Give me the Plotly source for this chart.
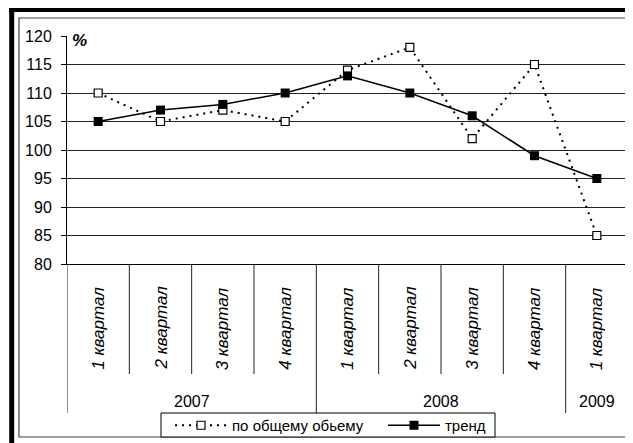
import plotly.graph_objects as go

# ---- data ----
years = ["2007", "2007", "2007", "2007", "2008", "2008", "2008", "2008", "2009"]
quarters = ["1 квартал", "2 квартал", "3 квартал", "4 квартал",
            "1 квартал", "2 квартал", "3 квартал", "4 квартал", "1 квартал"]
total_volume = [110, 105, 107, 105, 114, 118, 102, 115, 85]
trend = [105, 107, 108, 110, 113, 110, 106, 99, 95]
series_names = ["по общему обьему", "тренд"]
y_ticks = [80, 85, 90, 95, 100, 105, 110, 115, 120]

# ---- layout geometry (window pixels; page body has an 8px margin) ----
OFF = 8
W, H = 633 - OFF, 443 - OFF
PX0, PX1 = 67, 628   # plot area left/right (window px)
PY0, PY1 = 36, 264   # plot area top/bottom (window px)
FONT = "Liberation Sans, Arial, sans-serif"


def xp(px):
    return (px - PX0) / (PX1 - PX0)


def yp(py):
    return (PY1 - py) / (PY1 - PY0)


xs = list(range(len(quarters)))

fig = go.Figure()
fig.add_trace(go.Scatter(
    x=xs, y=total_volume, name=series_names[0], mode="lines+markers",
    line=dict(color="black", width=2, dash="2px,5px"),
    marker=dict(symbol="square", size=8, color="white",
                line=dict(color="black", width=1.2)),
    legendwidth=146,
))
fig.add_trace(go.Scatter(
    x=xs, y=trend, name=series_names[1], mode="lines+markers",
    line=dict(color="black", width=1.5),
    marker=dict(symbol="square", size=9, color="black",
                line=dict(color="black", width=0)),
))

shapes = []
# category / year dividers
n = len(quarters)
for b in range(n + 1):
    is_year_edge = (b == 0 or b == n or years[b] != years[b - 1])
    shapes.append(dict(type="line", xref="x", yref="paper",
                       x0=b - 0.5, x1=b - 0.5, y0=0,
                       y1=yp(413 if is_year_edge else 374),
                       line=dict(color="#222", width=1)))
# chart-area frame
shapes.append(dict(type="rect", xref="paper", yref="paper",
                   x0=xp(19), x1=xp(628), y0=yp(18), y1=yp(437),
                   line=dict(color="#444", width=1.2), layer="below"))
# thick outer border (top and left)
shapes.append(dict(type="line", xref="paper", yref="paper",
                   x0=xp(9), x1=xp(633), y0=yp(10), y1=yp(10),
                   line=dict(color="black", width=4)))
shapes.append(dict(type="line", xref="paper", yref="paper",
                   x0=xp(11.7), x1=xp(11.7), y0=yp(8), y1=yp(443),
                   line=dict(color="black", width=5)))
# legend box
shapes.append(dict(type="rect", xref="paper", yref="paper",
                   x0=xp(161), x1=xp(495), y0=yp(413), y1=yp(437),
                   line=dict(color="black", width=1), fillcolor="white",
                   layer="above"))

annotations = []
for i, q in enumerate(quarters):
    annotations.append(dict(
        x=i, y=yp(372), xref="x", yref="paper", text="<i>" + q + "</i>",
        textangle=-90, showarrow=False, xanchor="center", yanchor="bottom",
        font=dict(family=FONT, size=17, color="black")))
# year labels
groups = []
for i, y in enumerate(years):
    if not groups or groups[-1][0] != y:
        groups.append([y, i, i])
    else:
        groups[-1][2] = i
for y, a, b in groups:
    annotations.append(dict(
        x=(a + b) / 2, y=yp(401), xref="x", yref="paper", text=y,
        showarrow=False, xanchor="center", yanchor="middle",
        font=dict(family=FONT, size=16, color="black")))
annotations.append(dict(
    x=xp(70), y=yp(41), xref="paper", yref="paper", text="<b><i>%</i></b>",
    showarrow=False, xanchor="left", yanchor="middle",
    font=dict(family=FONT, size=17, color="black")))

fig.update_layout(
    width=W, height=H,
    margin=dict(l=PX0 - OFF, r=633 - PX1, t=PY0 - OFF, b=443 - PY1,
                pad=0, autoexpand=False),
    paper_bgcolor="white", plot_bgcolor="white",
    font=dict(family=FONT, size=16, color="black"),
    showlegend=True,
    legend=dict(orientation="h", x=xp(170), y=yp(425.5), xanchor="left",
                yanchor="middle", borderwidth=0,
                bgcolor="rgba(0,0,0,0)", font=dict(family=FONT, size=15),
                itemwidth=52),
    shapes=shapes, annotations=annotations,
    xaxis=dict(range=[-0.5, n - 0.5], showgrid=False, zeroline=False,
               showticklabels=False, ticks="", showline=True,
               linecolor="black", linewidth=1, fixedrange=True),
    yaxis=dict(range=[80, 120], tickvals=y_ticks, showgrid=True,
               gridcolor="#222", gridwidth=1, zeroline=False,
               showline=True, linecolor="black", linewidth=1,
               ticks="outside", ticklen=5, tickcolor="black",
               ticklabelstandoff=6,
               tickfont=dict(family=FONT, size=16, color="black"),
               fixedrange=True),
)

fig.write_html("out.html")
